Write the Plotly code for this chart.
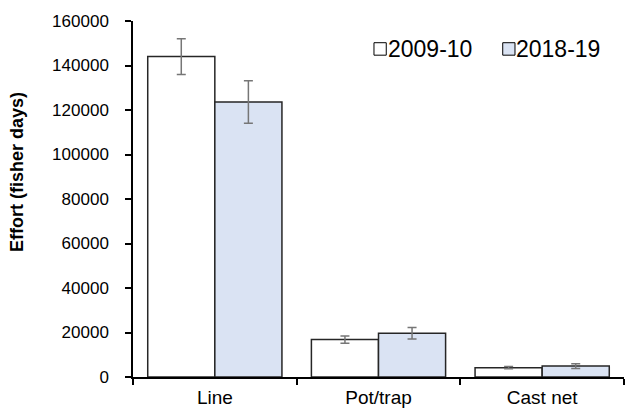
import plotly.graph_objects as go

# Fishing effort by gear type, two survey periods
gears = ["Line", "Pot/trap", "Cast net"]
periods = ["2009-10", "2018-19"]
effort_2009 = [144000, 16800, 4200]
se_2009 = [8000, 1600, 500]
effort_2018 = [123600, 19700, 4900]
se_2018 = [9500, 2600, 1100]

font = "Liberation Sans, Arial, sans-serif"
fills = ["white", "#dae3f3"]
outline = "#262626"
err_col = "#767676"

fig = go.Figure()
for name, vals, errs, fill in zip(periods, [effort_2009, effort_2018], [se_2009, se_2018], fills):
    fig.add_trace(go.Bar(
        name=name, x=gears, y=vals,
        marker=dict(color=fill, line=dict(color=outline, width=1.5)),
        error_y=dict(type="data", array=errs, color=err_col, thickness=1.5, width=4.5),
    ))

# Compact legend: small outlined swatch right against its label
swatch_x = [0.4908, 0.7530]
text_x = [0.5145, 0.7765]
for name, fill, sx, tx in zip(periods, fills, swatch_x, text_x):
    fig.add_shape(type="rect", xref="paper", yref="paper",
                  x0=sx, x1=sx + 0.0250, y0=0.9040, y1=0.9390,
                  fillcolor=fill, line=dict(color="#000000", width=1))
    fig.add_annotation(xref="paper", yref="paper", x=tx, y=0.921,
                       xanchor="left", yanchor="middle", showarrow=False,
                       text=name, font=dict(size=23, color="#000000"))

# Y-axis title
fig.add_annotation(xref="paper", yref="paper", x=-0.2363, y=0.576,
                   xanchor="center", yanchor="middle", showarrow=False, textangle=-90,
                   text="<b>Effort (fisher days)</b>", font=dict(size=18, color="#000000"))

fig.update_layout(
    width=625, height=409,
    margin=dict(l=133, r=1, t=21, b=32),
    paper_bgcolor="white", plot_bgcolor="white",
    barmode="group", bargap=0.18, bargroupgap=0,
    font=dict(family=font, size=17, color="#000000"),
    showlegend=False,
    xaxis=dict(
        showline=True, linecolor="#000000", linewidth=1.5, automargin=False,
        ticks="outside", tickson="boundaries", ticklen=6, tickwidth=1.5, tickcolor="#000000",
        showgrid=False, tickfont=dict(size=19), ticklabelstandoff=2,
    ),
    yaxis=dict(
        range=[0, 160000], dtick=20000, tickformat="d", automargin=False,
        showline=True, linecolor="#000000", linewidth=1.5,
        ticks="outside", ticklen=6, tickwidth=1.5, tickcolor="#000000",
        showgrid=False, zeroline=False, tickfont=dict(size=17), ticklabelstandoff=13,
    ),
)

fig.write_html("out.html")
